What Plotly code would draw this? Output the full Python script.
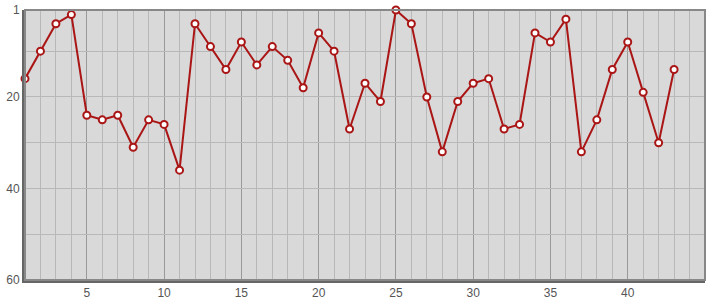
import plotly.graph_objects as go

games = list(range(1, 44))
positions = [16, 10, 4, 2, 24, 25, 24, 31, 25, 26,
             36, 4, 9, 14, 8, 13, 9, 12, 18, 6,
             10, 27, 17, 21, 1, 4, 20, 32, 21, 17,
             16, 27, 26, 6, 8, 3, 32, 25, 14, 8,
             19, 30, 14]
y_tickvals = [1, 10, 20, 30, 40, 50, 60]
y_ticktext = ["1", "", "20", "", "40", "", "60"]
x_tickvals = [5, 10, 15, 20, 25, 30, 35, 40]

fig = go.Figure()
fig.add_trace(go.Scatter(
    x=games, y=positions, mode="lines+markers",
    line=dict(color="#aa1515", width=2),
    marker=dict(symbol="circle", size=7, color="white",
                line=dict(color="#aa1515", width=2)),
    hoverinfo="x+y", cliponaxis=False,
))

fig.update_layout(
    width=715, height=300,
    margin=dict(l=25, r=10, t=10, b=20, autoexpand=False),
    paper_bgcolor="white", plot_bgcolor="#d9d9d9",
    showlegend=False,
    font=dict(family="Liberation Sans, Arial, sans-serif", size=12, color="#555"),
    shapes=[dict(type="rect", xref="paper", yref="paper", x0=0, x1=1, y0=0, y1=1,
                 line=dict(color="#888", width=2), fillcolor="rgba(0,0,0,0)", layer="above")],
)
fig.update_xaxes(
    range=[1, 45], tickvals=x_tickvals, ticks="", showgrid=True, automargin=False,
    gridcolor="#999", gridwidth=1, zeroline=False,
    minor=dict(dtick=1, tick0=0, showgrid=True, gridcolor="#b8b8b8", gridwidth=1),
    showline=True, linecolor="#666", linewidth=3, ticklabelstandoff=0,
)
fig.update_yaxes(
    range=[60, 1], tickvals=y_tickvals, ticktext=y_ticktext, ticks="", automargin=False,
    showgrid=True, gridcolor="#b8b8b8", gridwidth=1, zeroline=False,
    showline=True, linecolor="#666", linewidth=3,
)

fig.write_html("out.html")
